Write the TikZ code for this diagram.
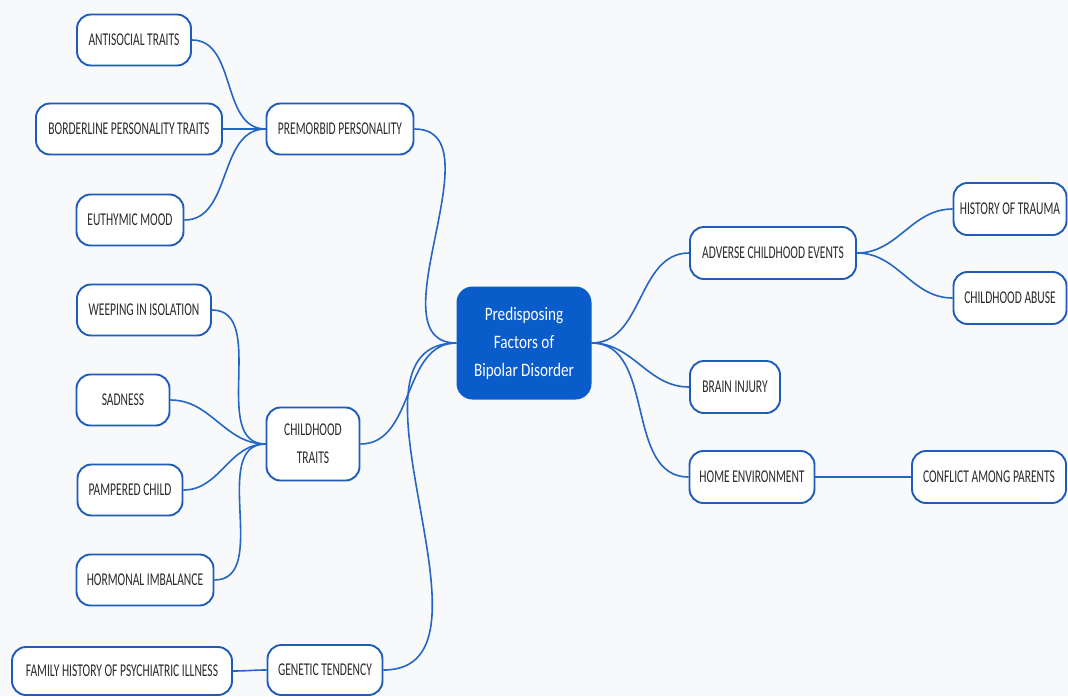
\documentclass[tikz,border=0pt]{standalone}
\usepackage{fontspec}
\setmainfont[FakeStretch=0.64]{Carlito}
\newfontfamily\hubfont[FakeStretch=0.8]{Carlito}
\definecolor{bg}{HTML}{F8F9FA}
\definecolor{edgeblue}{HTML}{2466C4}
\definecolor{boxblue}{HTML}{1F5CB8}
\definecolor{centerblue}{HTML}{0A5CCB}
\definecolor{txt}{HTML}{2A2A2A}
\tikzset{
  leaf/.style={draw=boxblue, line width=1.9pt, fill=white, rounded corners=14pt,
    text=txt, font=\fontsize{18}{20}\selectfont, inner sep=2pt, align=center,
    minimum height=51pt},
  hub/.style={draw=none, fill=centerblue, rounded corners=16pt, text=white,
    font=\hubfont\fontsize{19}{28}\selectfont, align=center, inner sep=2pt},
  link/.style={draw=edgeblue, line width=1.6pt, out=0, in=180}
}
\begin{document}
\begin{tikzpicture}[x=1pt,y=-1pt]
\fill[bg] (0,0) rectangle (1068,696);
\useasboundingbox (0,0) rectangle (1068,696);

\node[hub, minimum width=135pt, minimum height=113pt] (c) at (524,343) {Predisposing\\Factors of\\Bipolar Disorder};

\node[leaf, minimum width=114pt] (ant) at (134,40) {ANTISOCIAL TRAITS};
\node[leaf, minimum width=186pt] (bord) at (129,129) {BORDERLINE PERSONALITY TRAITS};
\node[leaf, minimum width=107pt] (euth) at (130,220) {EUTHYMIC MOOD};
\node[leaf, minimum width=147pt] (pre) at (340,129) {PREMORBID PERSONALITY};

\node[leaf, minimum width=134pt] (weep) at (144,310) {WEEPING IN ISOLATION};
\node[leaf, minimum width=93pt] (sad) at (123,400) {SADNESS};
\node[leaf, minimum width=105pt] (pamp) at (130,490) {PAMPERED CHILD};
\node[leaf, minimum width=137pt] (horm) at (145,580) {HORMONAL IMBALANCE};
\node[leaf, minimum width=93pt, minimum height=73pt, font=\fontsize{18}{28}\selectfont] (child) at (313,444) {CHILDHOOD\\TRAITS};

\node[leaf, minimum width=220pt, minimum height=48pt] (fam) at (122,671) {FAMILY HISTORY OF PSYCHIATRIC ILLNESS};
\node[leaf, minimum width=115pt, minimum height=50pt] (gen) at (325,670) {GENETIC TENDENCY};

\node[leaf, minimum width=166pt, minimum height=52pt] (adv) at (773,253) {ADVERSE CHILDHOOD EVENTS};
\node[leaf, minimum width=113pt, minimum height=52pt] (hist) at (1010,209) {HISTORY OF TRAUMA};
\node[leaf, minimum width=113pt, minimum height=52pt] (abuse) at (1010,298) {CHILDHOOD ABUSE};
\node[leaf, minimum width=90pt, minimum height=52pt] (brain) at (735,387) {BRAIN INJURY};
\node[leaf, minimum width=125pt, minimum height=52pt] (home) at (752,477) {HOME ENVIRONMENT};
\node[leaf, minimum width=154pt, minimum height=52pt] (conf) at (989,477) {CONFLICT AMONG PARENTS};

\draw[link] (ant.east) to (pre.west);
\draw[link] (bord.east) to (pre.west);
\draw[link] (euth.east) to (pre.west);
\draw[link] (weep.east) to (child.west);
\draw[link] (sad.east) to (child.west);
\draw[link] (pamp.east) to (child.west);
\draw[link] (horm.east) to (child.west);
\draw[link] (fam.east) to (gen.west);
\draw[link] (pre.east) to (c.west);
\draw[link] (child.east) to (c.west);
\draw[link] (gen.east) to (c.west);
\draw[link] (c.east) to (adv.west);
\draw[link] (c.east) to (brain.west);
\draw[link] (c.east) to (home.west);
\draw[link] (adv.east) to (hist.west);
\draw[link] (adv.east) to (abuse.west);
\draw[link] (home.east) to (conf.west);
\end{tikzpicture}
\end{document}
